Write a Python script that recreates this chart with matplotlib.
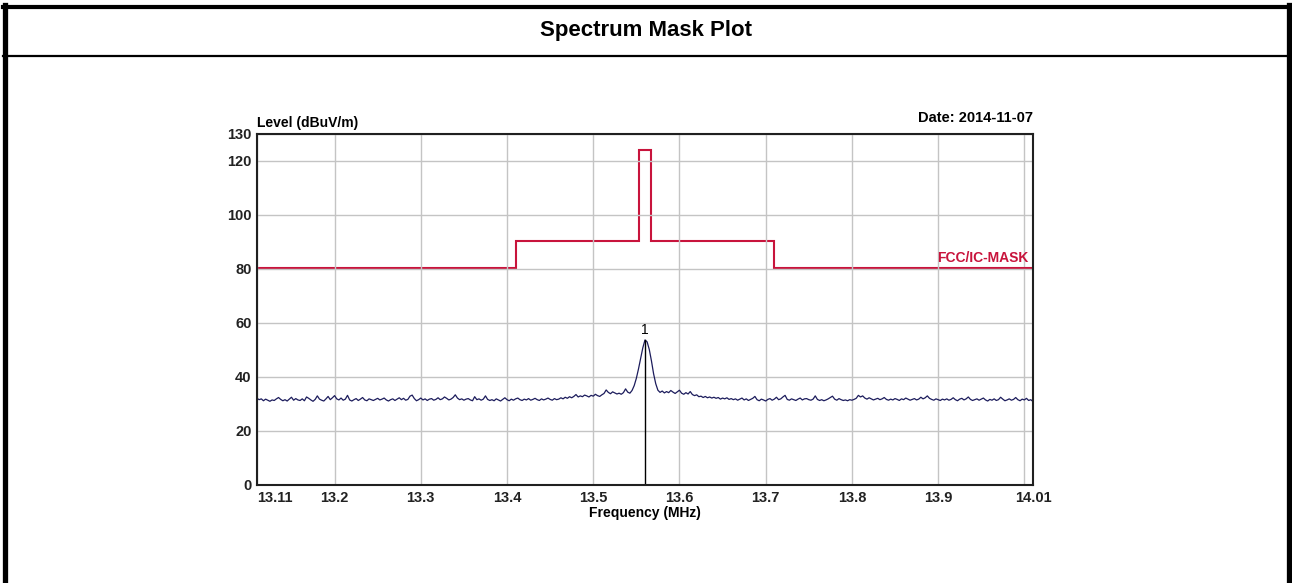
import matplotlib.pyplot as plt
from matplotlib.lines import Line2D
import numpy as np

plt.rcParams['font.family'] = ['Liberation Sans', 'DejaVu Sans']

# mask (FCC/IC 15.225) edges and levels
mask_freq = [13.11, 13.41, 13.553, 13.567, 13.71, 14.01]
mask_level = [80.5, 90.5, 124.0, 90.5, 80.5]

# measured trace, 13.11 .. 14.01 MHz, 2.5 kHz steps
f_start, f_stop = 13.11, 14.01
level = [
    32.1, 31.6, 31.9, 31.2, 31.8, 31.4, 31.0, 31.5, 31.3, 31.9, 32.4, 31.7, 31.2, 31.6, 31.1, 31.8, 32.5, 31.4, 32.0, 31.5,
    31.3, 31.9, 31.2, 32.6, 32.1, 31.5, 31.0, 31.7, 33.0, 31.8, 31.4, 31.1, 31.9, 32.8, 31.6, 32.3, 33.1, 31.9, 31.5, 32.2,
    31.4, 31.8, 33.2, 31.5, 31.1, 31.6, 32.0, 31.3, 31.8, 32.4, 31.5, 31.2, 31.9, 31.6, 31.3, 31.7, 32.1, 31.5, 31.8, 32.2,
    31.5, 31.1, 31.6, 31.9, 31.3, 31.8, 32.3, 31.6, 32.1, 31.4, 31.7, 32.9, 33.3, 32.0, 31.2, 31.6, 32.2, 31.5, 31.9, 31.3,
    31.8, 32.0, 31.4, 31.7, 32.3, 31.6, 31.9, 32.6, 32.1, 31.5, 31.8, 32.4, 33.4, 32.2, 31.6, 31.9, 31.4, 31.8, 32.0, 31.5,
    31.2, 32.7, 31.6, 31.9, 31.4, 31.8, 33.0, 31.7, 31.3, 31.6, 31.2, 31.9, 31.5, 31.1, 31.7, 32.3, 31.6, 31.2, 31.8, 31.4,
    31.9, 32.2, 31.6, 31.3, 31.8, 31.5, 32.0, 31.4, 31.7, 32.1, 31.6, 31.3, 31.9, 31.5, 31.8, 32.2, 31.7, 31.4, 32.0, 31.6,
    31.8, 32.3, 31.9, 32.5, 32.1, 32.7, 32.3, 32.8, 33.5, 32.6, 33.0, 32.7, 33.3, 33.0, 32.6, 33.2, 32.9, 33.6, 33.1, 32.8,
    33.4, 33.9, 35.2, 34.3, 33.8, 34.5, 34.1, 33.7, 34.0, 33.6, 34.2, 35.6, 34.4, 34.0, 35.0, 36.8, 39.5, 43.0, 47.0, 50.8,
    53.7, 53.0, 50.2, 46.0, 41.2, 37.5, 35.1, 34.3, 34.8, 34.1, 34.6, 34.2, 35.0, 34.4, 33.9, 34.5, 35.1, 34.0, 33.6, 34.2,
    33.7, 34.6, 33.5, 33.1, 33.4, 32.7, 32.9, 32.4, 32.8, 32.3, 32.6, 32.2, 32.5, 32.1, 32.4, 31.8, 32.2, 31.9, 32.3, 31.7,
    32.0, 31.6, 31.9, 31.4, 31.8, 32.2, 31.5, 31.9, 31.3, 31.7, 32.1, 32.8, 31.6, 31.2, 31.8, 31.5, 31.1, 31.7, 32.0, 31.4,
    31.8, 32.5, 31.6, 31.9, 32.6, 33.2, 31.7, 31.4, 31.9, 31.6, 31.3, 31.8, 32.2, 31.5, 31.9, 32.0, 31.6, 31.4, 31.8, 33.0,
    31.7, 31.3, 31.6, 31.2, 31.5, 31.9, 32.4, 32.9, 31.8, 31.4, 32.0, 31.6, 31.3, 31.5, 31.2, 31.6, 31.4, 31.7, 32.1, 33.2,
    32.6, 33.0, 32.2, 31.8, 32.3, 31.9, 31.5, 31.8, 32.1, 31.6, 31.9, 32.4, 31.7, 31.4, 31.8, 31.5, 32.0, 31.7, 31.3, 31.9,
    31.6, 32.2, 31.8, 31.4, 31.7, 32.0, 31.5, 31.8, 32.5, 31.9, 32.3, 33.0, 32.1, 31.7, 31.4, 31.9, 31.6, 31.3, 31.8, 31.5,
    31.9, 31.4, 31.7, 32.3, 31.6, 31.2, 31.8, 32.1, 31.5, 31.9, 32.6, 31.7, 31.3, 31.6, 31.9, 31.4, 31.8, 32.2, 31.5, 31.1,
    31.7, 31.4, 31.9, 31.3, 31.6, 32.5, 31.8, 31.2, 31.5, 31.9, 31.4, 31.7, 32.4, 31.6, 31.2, 31.8, 31.5, 32.1, 31.3, 31.6,
    30.9,
]
freq = np.linspace(f_start, f_stop, len(level))

marker_freq = 13.56
marker_level = 53.7

xticks = [13.11, 13.2, 13.3, 13.4, 13.5, 13.6, 13.7, 13.8, 13.9, 14.01]
xticklabels = ['13.11', '13.2', '13.3', '13.4', '13.5', '13.6', '13.7', '13.8', '13.9', '14.01']
yticks = [0, 20, 40, 60, 80, 100, 120, 130]

fig = plt.figure(figsize=(12.92, 5.83), dpi=100)

# page frame and title row
fig.add_artist(Line2D([0.0035, 0.0035], [0, 0.9915], transform=fig.transFigure, color='black', lw=3.8))
fig.add_artist(Line2D([0.9977, 0.9977], [0, 0.9915], transform=fig.transFigure, color='black', lw=3.8))
fig.add_artist(Line2D([0.002, 0.999], [0.9880, 0.9880], transform=fig.transFigure, color='black', lw=3.0))
fig.add_artist(Line2D([0.002, 0.999], [0.9040, 0.9040], transform=fig.transFigure, color='black', lw=1.6))
fig.text(0.5, 0.947, 'Spectrum Mask Plot', ha='center', va='center', fontsize=16, fontweight='bold')

ax = fig.add_axes([0.1989, 0.1681, 0.6006, 0.6021])

ax.stairs(mask_level, mask_freq, color='#c8143c', lw=1.5, baseline=None)
ax.plot(freq, level, color='#1c1c5c', lw=0.9)
ax.plot([marker_freq, marker_freq], [0, marker_level], color='black', lw=1.0)
ax.text(marker_freq, marker_level + 1.2, '1', ha='center', va='bottom', fontsize=10)
ax.text(14.005, 81.5, 'FCC/IC-MASK', color='#c8143c', ha='right', va='bottom',
        fontsize=10, fontweight='bold')

ax.set_xlim(f_start, f_stop)
ax.set_ylim(0, 130)
ax.set_xticks(xticks)
ax.set_xticklabels(xticklabels)
ax.set_yticks(yticks)
ax.tick_params(length=0, labelsize=10.5, pad=4)
for lab in ax.get_xticklabels() + ax.get_yticklabels():
    lab.set_fontweight('bold')
    lab.set_color('#222222')
ax.get_xticklabels()[0].set_horizontalalignment('left')

ax.grid(True, color='#c4c4c4', lw=1.0)
ax.axvline(14.0, color='#c4c4c4', lw=1.0, zorder=0.5)
for s in ax.spines.values():
    s.set_linewidth(1.5)
    s.set_color('#202020')

ax.text(0.0, 1.012, 'Level (dBuV/m)', transform=ax.transAxes, ha='left', va='bottom',
        fontsize=10, fontweight='bold')
ax.text(1.0, 1.025, 'Date: 2014-11-07', transform=ax.transAxes, ha='right', va='bottom',
        fontsize=10.5, fontweight='bold')
ax.set_xlabel('Frequency (MHz)', fontsize=10, fontweight='bold', labelpad=1)

plt.savefig('out.png', dpi=100)
